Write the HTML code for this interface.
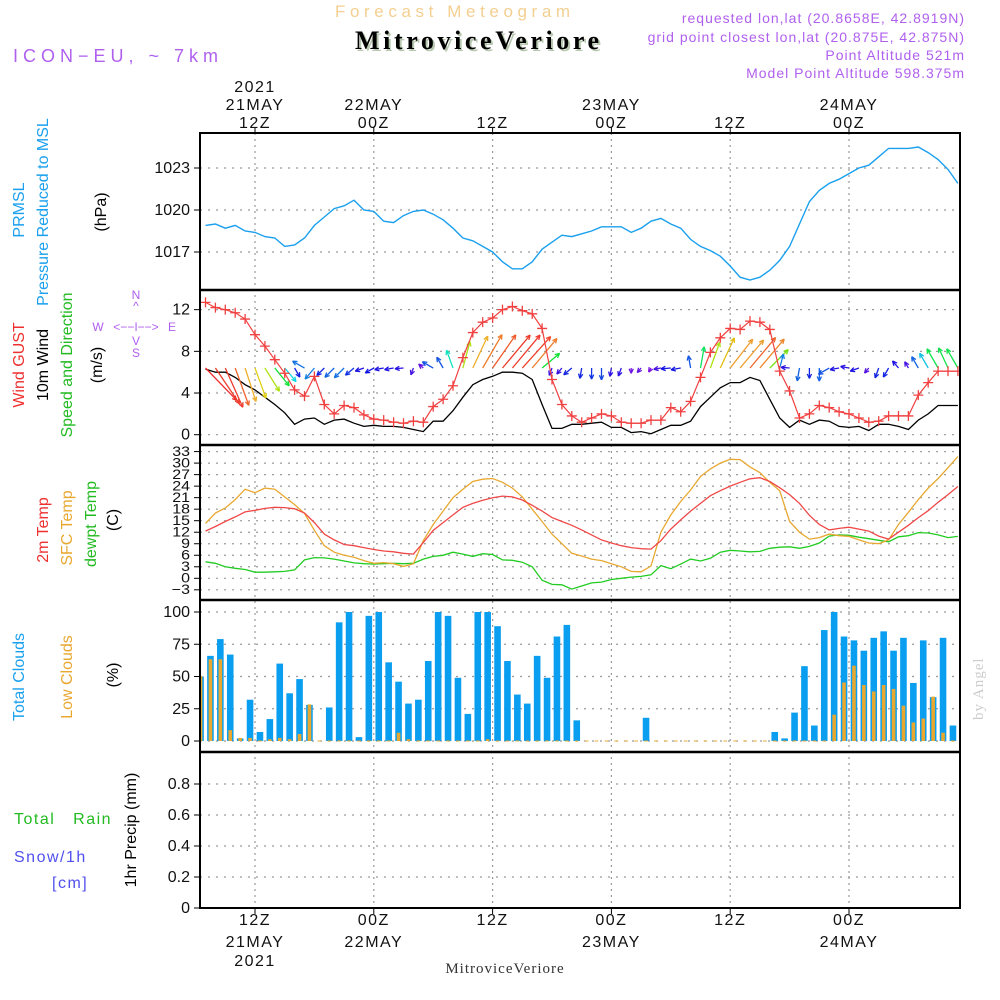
<!DOCTYPE html>
<html><head><meta charset="utf-8"><style>
html,body{margin:0;padding:0;background:#fff;width:1000px;height:1000px;overflow:hidden}
svg{display:block}
svg{font-family:"Liberation Sans",sans-serif}
.serif{font-family:"Liberation Serif",serif}
</style></head><body>
<svg id="chart" width="1000" height="1000" viewBox="0 0 1000 1000" xmlns="http://www.w3.org/2000/svg">
<defs>
<clipPath id="c1"><rect x="200" y="133" width="760" height="157"/></clipPath>
<clipPath id="c2"><rect x="200" y="290" width="760" height="155"/></clipPath>
<clipPath id="c3"><rect x="200" y="445" width="760" height="155"/></clipPath>
<clipPath id="c4"><rect x="200" y="600" width="760" height="152"/></clipPath>
</defs>
<g id="grid"></g>
<g id="marks"></g>
<g id="frame" fill="none" stroke="#000">
<rect x="200" y="133" width="760" height="775" stroke-width="2"/>
<line x1="200" y1="290" x2="960" y2="290" stroke-width="2.5"/>
<line x1="200" y1="445" x2="960" y2="445" stroke-width="2.5"/>
<line x1="200" y1="600" x2="960" y2="600" stroke-width="2.5"/>
<line x1="200" y1="752" x2="960" y2="752" stroke-width="2.5"/>
</g>
<g id="axes" font-size="16" fill="#111"></g>

<!-- header -->
<text x="335" y="17" font-size="17" fill="#f3cf90" letter-spacing="4.6">Forecast Meteogram</text>
<g fill="#b060ee" font-size="14" letter-spacing="1" text-anchor="end">
<text x="965" y="23">requested lon,lat (20.8658E, 42.8919N)</text>
<text x="965" y="42">grid point closest lon,lat (20.875E, 42.875N)</text>
<text x="965" y="60">Point Altitude 521m</text>
<text x="965" y="78">Model Point Altitude 598.375m</text>
</g>
<text class="serif" x="357" y="51" font-weight="bold" font-size="26" fill="#b8c8b0" letter-spacing="3.6">MitroviceVeriore</text>
<text class="serif" x="355" y="49" font-weight="bold" font-size="26" fill="#000" letter-spacing="3.6">MitroviceVeriore</text>
<text x="13" y="62" font-size="18" fill="#b060ee" letter-spacing="5">ICON−EU, ~ 7km</text>
<text class="serif" x="505" y="973" text-anchor="middle" font-size="15" fill="#333" letter-spacing="1">MitroviceVeriore</text>
<text class="serif" transform="translate(983,720) rotate(-90)" font-size="15" fill="#ccc" letter-spacing="1">by Angel</text>

<!-- left labels -->
<g font-size="16">
<text transform="translate(24,210) rotate(-90)" text-anchor="middle" fill="#1aa0ee">PRMSL</text>
<text transform="translate(48,212) rotate(-90)" text-anchor="middle" fill="#1aa0ee">Pressure Reduced to MSL</text>
<text transform="translate(106,212) rotate(-90)" text-anchor="middle" fill="#000">(hPa)</text>
<text transform="translate(24,365) rotate(-90)" text-anchor="middle" fill="#ee3030">Wind GUST</text>
<text transform="translate(48,365) rotate(-90)" text-anchor="middle" fill="#000">10m Wind</text>
<text transform="translate(72,365) rotate(-90)" text-anchor="middle" fill="#22bb22">Speed and Direction</text>
<text transform="translate(102,365) rotate(-90)" text-anchor="middle" fill="#000">(m/s)</text>
<text transform="translate(48,530) rotate(-90)" text-anchor="middle" fill="#ee3030">2m Temp</text>
<text transform="translate(72,528) rotate(-90)" text-anchor="middle" fill="#e8a830">SFC Temp</text>
<text transform="translate(96,524) rotate(-90)" text-anchor="middle" fill="#22bb22">dewpt Temp</text>
<text transform="translate(118,520) rotate(-90)" text-anchor="middle" fill="#000">(C)</text>
<text transform="translate(24,677) rotate(-90)" text-anchor="middle" fill="#1aa0ee">Total Clouds</text>
<text transform="translate(72,677) rotate(-90)" text-anchor="middle" fill="#e8a830">Low Clouds</text>
<text transform="translate(118,675) rotate(-90)" text-anchor="middle" fill="#000">(%)</text>
<text transform="translate(136,830) rotate(-90)" text-anchor="middle" fill="#000">1hr Precip (mm)</text>
<text x="14" y="824" fill="#22bb22" letter-spacing="1.5" xml:space="preserve">Total   Rain</text>
<text x="14" y="862" fill="#5050ee" letter-spacing="1.5">Snow/1h</text>
<text x="52" y="888" fill="#5050ee" letter-spacing="1.5">[cm]</text>
</g>
<g fill="#b060ee" font-size="12" stroke="none">
<text x="136" y="299" text-anchor="middle">N</text>
<text x="136" y="310" text-anchor="middle">^</text>
<text x="98" y="331" text-anchor="middle">W</text>
<text x="136" y="331" text-anchor="middle">&lt;−−I−−&gt;</text>
<text x="172" y="331" text-anchor="middle">E</text>
<text x="136" y="345" text-anchor="middle">V</text>
<text x="136" y="357" text-anchor="middle">S</text>
</g>
</svg>
<script>
const NS="http://www.w3.org/2000/svg";
// ---- data (hourly, first point 07Z 21 MAY) ----
const pressure=[1018.9,1019.0,1018.7,1018.9,1018.5,1018.4,1018.1,1018.0,1017.4,1017.5,
1018.0,1018.9,1019.5,1020.1,1020.3,1020.7,1020.0,1019.9,1019.2,1019.1,
1019.6,1019.9,1020.0,1019.7,1019.3,1018.7,1018.0,1017.8,1017.4,1017.0,
1016.3,1015.8,1015.8,1016.3,1017.2,1017.7,1018.2,1018.1,1018.3,
1018.5,1018.8,1018.8,1018.8,1018.4,1018.7,1019.2,1019.4,1019.0,1018.7,
1017.9,1017.4,1017.1,1016.7,1016.0,1015.2,1015.0,1015.2,1015.7,1016.4,
1017.4,1019.0,1020.6,1021.4,1021.9,1022.2,1022.6,1023.0,1023.2,1023.8,
1024.4,1024.4,1024.4,1024.5,1024.1,1023.6,1022.9,1021.9];
const gust=[12.7,12.2,12.0,11.7,11.1,9.6,8.5,7.2,5.9,4.3,3.7,5.6,2.9,2.0,2.8,2.6,1.9,1.5,1.4,1.2,
1.1,1.3,1.2,2.7,3.4,4.7,7.4,9.8,10.8,11.2,12.0,12.3,11.9,11.6,10.2,5.3,2.9,1.8,1.2,
1.6,2.0,1.8,1.2,1.1,1.1,1.4,1.4,2.6,2.2,3.2,5.5,7.9,9.3,10.2,10.1,10.9,10.8,10.1,6.1,4.2,
1.6,2.0,2.8,2.6,2.2,2.0,1.6,1.2,1.3,1.8,1.8,1.8,3.8,5.0,6.1,6.1,6.1];
const wind=[6.3,6.0,6.0,5.5,4.8,4.3,3.6,2.9,2.1,1.0,1.5,1.6,1.0,1.4,1.5,1.1,0.8,0.9,0.8,0.8,
0.7,0.5,0.3,1.3,1.3,2.3,3.6,4.8,5.3,5.6,6.0,6.0,5.9,5.3,2.9,0.6,0.6,1.0,1.0,
1.1,1.2,0.7,0.7,0.2,0.3,0.1,0.5,0.9,0.9,1.3,2.7,3.6,4.5,5.0,5.0,5.5,5.2,3.4,1.6,0.7,
1.4,1.0,1.4,1.3,0.8,0.7,0.8,0.4,1.0,1.0,0.8,0.5,1.4,2.0,2.8,2.8,2.8];
const windDir=[136,146,156,160,162,160,148,141,140,150,300,220,225,225,225,230,250,240,260,260,
265,200,310,300,330,340,15,25,30,35,40,40,42,40,50,200,220,230,190,
180,180,190,200,180,220,210,260,265,260,350,10,20,25,38,40,40,40,45,15,275,
190,180,180,240,260,280,250,220,200,210,320,330,330,330,330,335,330];
const temp2m=[12.3,13.5,14.8,16.0,17.3,17.7,18.2,18.5,18.4,18.1,17.0,14.5,11.5,10.0,8.8,8.5,8.0,7.5,7.1,6.9,
6.5,6.3,9.3,12.5,14.5,16.5,18.5,19.5,20.3,21.0,21.4,21.2,20.4,19.0,17.5,15.8,14.8,13.8,12.6,11.3,
10.0,9.2,8.5,8.0,7.7,7.6,9.8,12.8,15.2,17.5,19.5,21.5,22.8,24.0,25.0,25.9,26.2,25.2,23.6,21.8,
19.5,16.4,14.0,12.6,13.0,13.3,12.8,12.3,11.0,10.2,12.0,13.8,15.8,17.6,19.8,21.8,23.9];
const tempSfc=[14.3,17.0,18.3,20.5,23.2,22.3,23.5,23.2,21.2,19.2,16.9,12.5,8.5,6.8,6.0,5.5,4.6,3.9,4.1,3.8,
3.1,3.8,9.8,14.0,17.5,21.0,23.2,25.2,25.8,26.0,25.0,23.5,21.2,18.0,14.8,11.5,9.0,6.5,5.8,5.0,
4.6,3.8,3.0,1.8,1.7,3.2,12.0,16.5,20.0,23.0,26.5,28.5,30.0,31.0,30.9,29.0,27.5,25.0,22.8,14.8,
12.0,10.2,10.6,11.5,11.1,10.9,10.0,9.2,9.0,10.0,14.0,17.2,20.5,23.5,26.0,28.8,31.7];
const dewpt=[4.3,3.9,3.0,2.6,2.3,1.6,1.6,1.7,1.8,2.2,4.8,5.4,5.3,5.0,4.5,4.0,3.8,3.7,3.8,3.9,
3.8,3.9,5.0,5.7,6.0,6.8,6.3,5.7,6.4,6.2,4.8,4.7,4.2,3.0,-0.5,-1.6,-1.7,-2.8,-2.0,-1.2,
-1.0,-0.3,0.0,0.3,0.5,0.9,3.3,2.5,3.7,5.0,4.5,5.2,6.8,7.3,7.1,6.9,7.0,7.8,8.1,8.2,
7.8,8.3,9.2,11.0,11.3,11.2,10.7,10.3,9.9,9.5,10.8,11.1,11.9,11.8,11.3,10.6,10.9];
const totalCloud=[50,66,79,67,2,32,7,17,60,37,48,28,0,26,92,100,3,97,100,61,46,29,32,62,100,97,49,21,100,100,
89,62,36,29,66,49,81,90,16,0,0,0,0,0,0,18,0,0,0,0,0,0,0,0,0,0,0,0,7,2,22,58,12,86,100,81,78,70,80,85,70,80,45,78,34,80,12,3];
const lowCloud=[50,63,63,8,2,2,0,1,2,1,5,28,0,0,0,0,0,0,0,0,6,1,0,0,0,0,0,0,0,1,
0,0,0,0,0,0,0,0,0,0,0,0,0,0,0,0,0,0,0,0,0,0,0,0,0,0,0,0,0,0,0,0,0,0,20,45,58,43,38,43,40,27,14,17,34,6,0,0];
const timeTicks=[0,12,24,36,48,60];
const topDates=["21MAY","22MAY","","23MAY","","24MAY"];
const topHours=["12Z","00Z","12Z","00Z","12Z","00Z"];
const bottomDates=["21MAY","22MAY","","23MAY","","24MAY"];
const pTicks=[1017,1020,1023];
const wTicks=[0,4,8,12];
const tTicks=[-3,0,3,6,9,12,15,18,21,24,27,30,33];
const cTicks=[0,25,50,75,100];
const rTicks=[0,0.2,0.4,0.6,0.8];

// ---- scales ----
const xT=t=>255+t*9.9;
const xI=i=>xT(i-5);
const yP=p=>210-(p-1020)*14;
const yW=v=>434.7-v*10.42;
const yTm=v=>578.3-v*3.84;
const yC=v=>741-v*1.29;
const yR=v=>908-v*155;

const marks=document.getElementById('marks');
const grid=document.getElementById('grid');
const axes=document.getElementById('axes');
function mk(tag,attrs,parent){const e=document.createElementNS(NS,tag);for(const k in attrs)e.setAttribute(k,attrs[k]);(parent||marks).appendChild(e);return e;}

timeTicks.forEach(t=>{
  const g=mk('line',{x1:xT(t),x2:xT(t),y1:133,y2:908,stroke:'#999','stroke-dasharray':'2,4','stroke-width':1.2},grid);
  
  
  mk('line',{x1:xT(t),x2:xT(t),y1:127,y2:133,stroke:'#000'},axes);
  mk('line',{x1:xT(t),x2:xT(t),y1:908,y2:914,stroke:'#000'},axes);
});
function hgrid(ticks,ys){ticks.forEach(v=>{const g=mk('line',{x1:200,x2:960,y1:ys(v),y2:ys(v),stroke:'#999','stroke-dasharray':'2,6','stroke-width':1.2},grid);
  
  });}
hgrid(pTicks,yP);hgrid(wTicks,yW);hgrid(tTicks,yTm);hgrid(cTicks,yC);hgrid(rTicks,yR);

function yLab(ticks,ys,fmt,fs,sy){ticks.forEach(v=>{
  mk('line',{x1:194,x2:200,y1:ys(v),y2:ys(v),stroke:'#000'},axes);
  const t=mk('text',{x:190,y:ys(v)+5,'text-anchor':'end','font-size':fs||16,transform:sy?`translate(0,${ys(v)*(1-sy)}) scale(1,${sy})`:''},axes);
  
  
  t.textContent=fmt(v);});}
yLab(pTicks,yP,v=>String(v));
yLab(wTicks,yW,v=>String(v));
yLab(tTicks,yTm,v=>v<0?'−'+(-v):String(v),16,0.85);
yLab(cTicks,yC,v=>String(v));
yLab(rTicks,yR,v=>v===0?'0':v.toFixed(1));

timeTicks.forEach((t,i)=>{
  const x=xT(t);
  const a=mk('text',{x:x,y:128,'text-anchor':'middle','letter-spacing':1.5},axes);a.textContent=topHours[i];
  
  if(topDates[i]){const b=mk('text',{x:x,y:110,'text-anchor':'middle','letter-spacing':1.5},axes);b.textContent=topDates[i];
  }
  const c=mk('text',{x:x,y:925,'text-anchor':'middle','letter-spacing':1.5},axes);c.textContent=topHours[i];
  
  if(bottomDates[i]){const d=mk('text',{x:x,y:947,'text-anchor':'middle','letter-spacing':1.5},axes);d.textContent=bottomDates[i];
  }
});
[[92],[966]].forEach(([y])=>{const e=mk('text',{x:xT(0),y:y,'text-anchor':'middle','letter-spacing':1.5},axes);e.textContent='2021';
  });

function line(arr,ys,color,clip,name,w){
  const d=arr.map((v,i)=>(i?'L':'M')+xI(i).toFixed(1)+','+ys(v).toFixed(1)).join('');
  const p=mk('path',{d:d,fill:'none',stroke:color,'stroke-width':w||1.2,'clip-path':'url(#'+clip+')'});
  
  
  return p;
}
line(pressure,yP,'#1aa0ee','c1','pressure-line',1.4);

totalCloud.forEach((v,k)=>{
  const x=xT(k-5.5);
  const r=mk('rect',{x:x-3.3,y:yC(v),width:6.6,height:Math.max(0,yC(0)-yC(v)),fill:'#0a9ef0','clip-path':'url(#c4)'});
  
  
});
lowCloud.forEach((v,k)=>{
  const x=xT(k-5.5);
  const r=mk('rect',{x:x-1.8,y:yC(v)-0.5,width:3.6,height:Math.max(1,yC(0)-yC(v)+0.5),fill:'#e8a830','clip-path':'url(#c4)'});
  
  
});

line(wind,yW,'#000','c2','wind-speed-line',1.3);
const hueStops=[[0,275],[1,235],[2,190],[2.9,130],[3.6,75],[4.3,55],[5,35],[5.6,15],[6.2,0]];
function hue(s){if(s<=0)return 275;for(let i=1;i<hueStops.length;i++){if(s<=hueStops[i][0]){const a=hueStops[i-1],b=hueStops[i];return a[1]+(b[1]-a[1])*(s-a[0])/(b[0]-a[0]);}}return 0;}
windDir.forEach((d,i)=>{
  const s=wind[i],L=4+6.5*s,r=d*Math.PI/180;
  const x0=xI(i),y0=yW(6.4);
  const x1=x0+Math.sin(r)*L,y1=y0-Math.cos(r)*L;
  const col=`hsl(${hue(s)},85%,${s>4.5?55:48}%)`;
  const g=mk('g',{stroke:col,'stroke-width':1.3,fill:'none','clip-path':'url(#c2)'});
  
  
  mk('line',{x1:x0,y1:y0,x2:x1,y2:y1},g);
  [25,-25].forEach(a=>{const rr=r+Math.PI+a*Math.PI/180;mk('line',{x1:x1,y1:y1,x2:x1+Math.sin(rr)*5,y2:y1-Math.cos(rr)*5},g);});
});
line(gust,yW,'#f04040','c2','gust-line',1.2);
gust.forEach((v,i)=>{
  const x=xI(i),y=yW(v);
  const p=mk('path',{d:`M${x-5},${y}H${x+5}M${x},${y-5}V${y+5}`,stroke:'#f04040','stroke-width':1.3,'clip-path':'url(#c2)'});
  
  
});

line(dewpt,yTm,'#22cc22','c3','dewpoint-line',1.3);
line(tempSfc,yTm,'#e8a830','c3','sfc-temp-line',1.3);
line(temp2m,yTm,'#f04848','c3','temp-2m-line',1.3);
</script>
</body></html>
